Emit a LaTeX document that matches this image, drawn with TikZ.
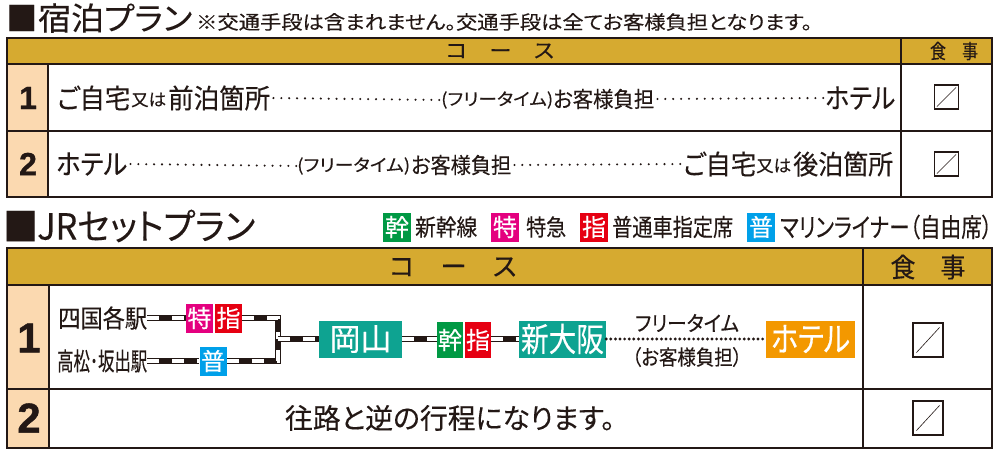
\documentclass[tikz,border=0pt]{standalone}
\usepackage{fontspec}
\usepackage{graphicx}
\setmainfont{Noto Sans CJK JP}[RawFeature={+palt},FakeBold=0.25]
\newfontfamily\numfont{Liberation Sans}[Scale=1,FakeBold=1.0]
\usetikzlibrary{backgrounds}
\definecolor{ink}{HTML}{231815}
\definecolor{gold}{HTML}{D6AA30}
\definecolor{peach}{HTML}{FBD9B0}
\definecolor{kgreen}{HTML}{009944}
\definecolor{kmag}{HTML}{E4007F}
\definecolor{kred}{HTML}{E60012}
\definecolor{kcyan}{HTML}{00A0E9}
\definecolor{kteal}{HTML}{0EA391}
\definecolor{korange}{HTML}{F39800}
\newcommand{\fitw}[2]{\resizebox{#1pt}{\height}{#2}}
\tikzset{
  x=1pt,y=-1pt,
  fs/.style={font=\fontsize{#1}{#1}\selectfont},
  numst/.style={inner sep=0pt,text=ink,anchor=center,font=\fontsize{#1}{#1}\selectfont\numfont\bfseries},
  lbl/.style={inner sep=0pt,text=ink,anchor=west},
  ctr/.style={inner sep=0pt,text=ink,anchor=center},
  badge/.style={inner sep=0pt,text=white,minimum width=27pt,minimum height=29pt,fill=#1,font=\fontsize{24}{24}\selectfont},
  stn/.style={inner sep=0pt,text=white,minimum height=37pt,fill=#1},
  rule/.style={draw=ink,line width=1.3pt},
  rail/.style={draw=ink,line width=6.5pt,postaction={draw=white,line width=3.6pt,dash pattern=on 12pt off 13pt}},
  leader/.style={draw=ink,line width=2.3pt,line cap=round,dash pattern=on 0pt off 7.9pt},
  freedots/.style={draw=ink,line width=3.2pt,line cap=round,dash pattern=on 0pt off 4.6pt},
  tick/.style={draw=ink,line width=1.2pt,fill=white},
  slash/.style={draw=ink,line width=.6pt},
}
\begin{document}
\begin{tikzpicture}
\useasboundingbox (0,0) rectangle (1000,456);
\begin{scope}[on background layer]
\fill[white] (0,0) rectangle (1000,456);
\end{scope}
% ---- table 1
\fill[gold] (7,38) rectangle (992,64);
\fill[peach] (7,64) rectangle (48,197);
\draw[rule] (7,38) rectangle (992,197);
\draw[rule] (7,64) -- (992,64);
\draw[rule] (7,131) -- (992,131);
\draw[rule] (48,64) -- (48,197);
\draw[rule] (901,38) -- (901,197);
\node[lbl,fs=33] (t1sq) at (6,18) {\fitw{31}{■}};
\node[lbl,fs=32] (t1) at (38,18) {\fitw{154}{宿泊プラン}};
\node[lbl,fs=19] (t1n) at (196,22) {\fitw{616}{※交通手段は含まれません。交通手段は全てお客様負担となります。}};
\node[ctr,fs=20] (h1) at (500,51) {\fitw{108}{コ　ー　ス}};
\node[ctr,fs=20] (h1m) at (954,51) {\fitw{48}{食　事}};
\node[numst=32] (n11) at (28,98) {1};
\node[numst=32] (n12) at (28,164) {2};
% row 1
\node[lbl,fs=27] (a1) at (57,98) {\fitw{73}{ご自宅}};
\node[lbl,fs=17] (a2) at (131,100) {\fitw{35}{又は}};
\node[lbl,fs=27] (a3) at (168,98) {\fitw{102}{前泊箇所}};
\node[lbl,fs=17] (a4) at (441,100) {\fitw{112}{(フリータイム)}};
\node[lbl,fs=22] (a5) at (553,99) {\fitw{101}{お客様負担}};
\node[lbl,fs=28] (a6) at (825,98) {\fitw{70}{ホテル}};
\draw[leader] ([xshift=3pt]a3.east) -- ([xshift=0pt]a4.west);
\draw[leader] ([xshift=3pt]a5.east) -- ([xshift=1pt]a6.west);
% row 2
\node[lbl,fs=28] (b1) at (56,164) {\fitw{71}{ホテル}};
\node[lbl,fs=17] (b2) at (297,166) {\fitw{113}{(フリータイム)}};
\node[lbl,fs=22] (b3) at (411,165) {\fitw{100}{お客様負担}};
\node[lbl,fs=27] (b4) at (683,164) {\fitw{73}{ご自宅}};
\node[lbl,fs=17] (b5) at (756,166) {\fitw{35}{又は}};
\node[lbl,fs=27] (b6) at (793,164) {\fitw{100}{後泊箇所}};
\draw[leader] ([xshift=3pt]b1.east) -- ([xshift=0pt]b2.west);
\draw[leader] ([xshift=3pt]b3.east) -- ([xshift=1pt]b4.west);
% meal boxes 1
\node[tick,minimum width=24pt,minimum height=24pt,inner sep=0pt] (m11) at (946.5,97) {};
\node[tick,minimum width=24pt,minimum height=24pt,inner sep=0pt] (m12) at (946.5,164) {};
\draw[slash] ([shift={(3,-3)}]m11.south west) -- ([shift={(-3,3)}]m11.north east);
\draw[slash] ([shift={(3,-3)}]m12.south west) -- ([shift={(-3,3)}]m12.north east);
% ---- table 2
\fill[gold] (7,248) rectangle (992,285);
\fill[peach] (7,285) rectangle (49,448);
\draw[rule] (7,248) rectangle (992,448);
\draw[rule] (7,285) -- (992,285);
\draw[rule] (7,389) -- (992,389);
\draw[rule] (49,285) -- (49,448);
\draw[rule] (863,248) -- (863,448);
\node[lbl,fs=38] (t2sq) at (3,226) {\fitw{35}{■}};
\node[lbl,fs=36] (t2) at (37,226) {\fitw{218}{JRセットプラン}};
\node[ctr,fs=26] (h2) at (453,267) {\fitw{127}{コ　ー　ス}};
\node[ctr,fs=27] (h2m) at (928,267) {\fitw{75}{食　事}};
\node[numst=42] (n21) at (29,338) {1};
\node[numst=42] (n22) at (29,418) {2};
% legend
\node[badge=kgreen,minimum width=28pt] (l1) at (397,227) {幹};
\node[lbl,fs=23] (l1t) at (415,227) {\fitw{62}{新幹線}};
\node[badge=kmag,minimum width=28pt] (l2) at (505,227) {特};
\node[lbl,fs=23] (l2t) at (526,227) {\fitw{40}{特急}};
\node[badge=kred,minimum width=28pt] (l3) at (594,227) {指};
\node[lbl,fs=24] (l3t) at (612,227) {\fitw{121}{普通車指定席}};
\node[badge=kcyan,minimum width=28pt] (l4) at (761,227) {普};
\node[lbl,fs=26] (l4t) at (780,227) {\fitw{212}{マリンライナー（自由席）}};
% route
\node[lbl,fs=25] (s1) at (58,318) {\fitw{89}{四国各駅}};
\node[lbl,fs=25] (s2) at (57,361) {\fitw{90}{高松･坂出駅}};
\node[badge=kmag] (r1) at (199.5,318) {特};
\node[badge=kred] (r2) at (228.5,318) {指};
\node[badge=kcyan] (r3) at (213,361) {普};
\node[stn=kteal,minimum width=83pt] (ok) at (360.5,339) {\fontsize{31}{31}\selectfont 岡山};
\node[badge=kgreen,minimum height=36pt,minimum width=26pt] (r4) at (450,340) {幹};
\node[badge=kred,minimum height=36pt,minimum width=26pt] (r5) at (478,340) {指};
\node[stn=kteal,minimum width=87pt] (sn) at (562.5,339) {\fontsize{33}{33}\selectfont\fitw{83}{新大阪}};
\node[stn=korange,minimum width=89pt] (ht) at (810.5,339) {\fontsize{34}{34}\selectfont\fitw{79}{ホテル}};
\draw[freedots] (sn.east) -- (ht.west);
\node[ctr,fs=21] (f1) at (687,323) {\fitw{104}{フリータイム}};
\node[ctr,fs=21] (f2) at (687,357) {\fitw{110}{（お客様負担）}};
\coordinate (jt) at (278,318);
\coordinate (jb) at (278,361);
\coordinate (jm) at (278,339);
\begin{scope}[on background layer]
\draw[rail] (s1.east) -- (r1.west);
\draw[rail] (r2.east) -- (jt) -- (jm);
\draw[rail] (s2.east) -- (r3.west);
\draw[rail] (r3.east) -- (jb) -- (jm);
\draw[rail] (jm) -- (ok.west);
\draw[rail] (ok.east) -- (r4.west |- ok.east);
\draw[rail] (r5.east |- sn.west) -- (sn.west);
\end{scope}
\node[ctr,fs=28] (ret) at (450,418) {\fitw{330}{往路と逆の行程になります。}};
% meal boxes 2
\node[tick,minimum width=30pt,minimum height=34pt,inner sep=0pt] (m21) at (928,340) {};
\node[tick,minimum width=30pt,minimum height=34pt,inner sep=0pt] (m22) at (928,418) {};
\draw[slash] ([shift={(4,-5)}]m21.south west) -- ([shift={(-4,5)}]m21.north east);
\draw[slash] ([shift={(4,-5)}]m22.south west) -- ([shift={(-4,5)}]m22.north east);
\end{tikzpicture}
\end{document}
